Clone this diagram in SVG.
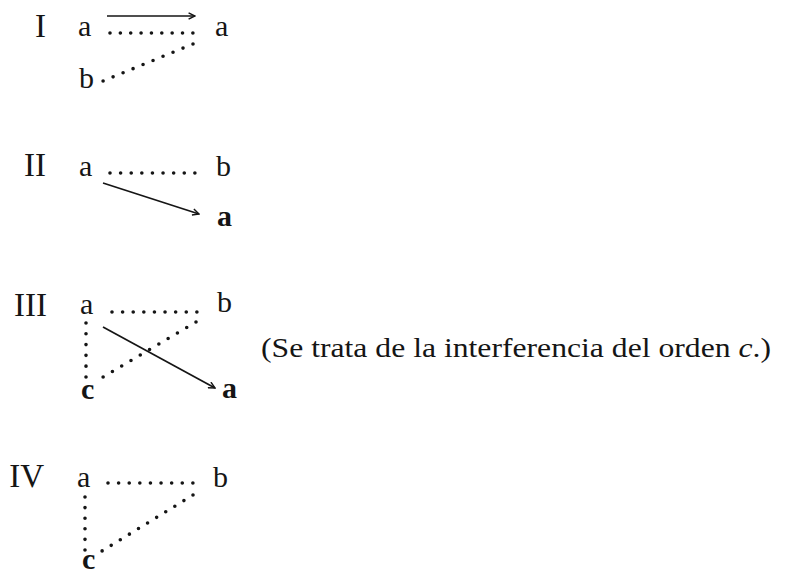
<svg xmlns="http://www.w3.org/2000/svg" width="794" height="575" viewBox="0 0 794 575">
<style>
text { font-family: "Liberation Serif", "DejaVu Serif", serif; fill: #151515; }
.num { font-size: 33px; text-anchor: end; }
.lt { font-size: 30px; }
.bd { font-size: 30px; font-weight: bold; }
.note { font-size: 27px; }
.dot { fill: none; stroke: #151515; stroke-width: 3.6; stroke-linecap: round; }
.arr { fill: none; stroke: #151515; stroke-width: 1.7; marker-end: url(#ah); }
</style>
<defs>
<marker id="ah" viewBox="0 0 10 10" refX="9" refY="5" markerWidth="8" markerHeight="8" markerUnits="userSpaceOnUse" orient="auto">
<path d="M1,1 L9,5 L1,9" fill="none" stroke="#151515" stroke-width="1.8"/>
</marker>
</defs>
<rect width="794" height="575" fill="#ffffff"/>

<g id="labels">
<text id="lab-I" class="num" x="46" y="37">I</text>
<text id="lab-II" class="num" x="46" y="176">II</text>
<text id="lab-III" class="num" x="47" y="316">III</text>
<text id="lab-IV" class="num" x="44" y="487">IV</text>
</g>

<g id="node-I-a1"><text class="lt" x="78" y="36">a</text></g>
<g id="node-I-a2"><text class="lt" x="215" y="36">a</text></g>
<g id="node-I-b"><text class="lt" x="79" y="88">b</text></g>

<g id="node-II-a1"><text class="lt" x="79" y="176">a</text></g>
<g id="node-II-b"><text class="lt" x="216" y="176">b</text></g>
<g id="node-II-a2"><text class="bd" x="217" y="226">a</text></g>

<g id="node-III-a1"><text class="lt" x="80" y="314">a</text></g>
<g id="node-III-b"><text class="lt" x="217" y="312">b</text></g>
<g id="node-III-c"><text class="bd" x="81" y="399">c</text></g>
<g id="node-III-a2"><text class="bd" x="222" y="398">a</text></g>

<g id="node-IV-a"><text class="lt" x="77" y="487">a</text></g>
<g id="node-IV-b"><text class="lt" x="213" y="487">b</text></g>
<g id="node-IV-c"><text class="bd" x="82" y="569">c</text></g>

<g id="note"><text class="note" x="261" y="357" textLength="510" lengthAdjust="spacingAndGlyphs">(Se trata de la interferencia del orden <tspan font-style="italic">c</tspan>.)</text></g>

<g id="connectors">
<line class="arr" x1="107" y1="16" x2="195" y2="16"/>
<line class="dot" x1="110" y1="33" x2="193" y2="33" stroke-dasharray="0 10.36"/>
<line class="dot" x1="193" y1="44" x2="103" y2="81" stroke-dasharray="0 10.8"/>

<line class="dot" x1="110" y1="173" x2="195" y2="173" stroke-dasharray="0 10.61"/>
<line class="arr" x1="103" y1="183" x2="199" y2="214"/>

<line class="dot" x1="112" y1="312" x2="197" y2="312" stroke-dasharray="0 10.61"/>
<line class="dot" x1="86" y1="323" x2="86" y2="377" stroke-dasharray="0 10.79"/>
<line class="dot" x1="196" y1="322" x2="103" y2="377" stroke-dasharray="0 10.79"/>
<line class="arr" x1="103" y1="327" x2="215" y2="388" stroke-width="2.1"/>

<line class="dot" x1="108" y1="483" x2="193" y2="483" stroke-dasharray="0 10.61"/>
<line class="dot" x1="85" y1="497" x2="85" y2="550" stroke-dasharray="0 10.59"/>
<line class="dot" x1="193" y1="495" x2="102" y2="551" stroke-dasharray="0 10.67"/>
</g>
</svg>
